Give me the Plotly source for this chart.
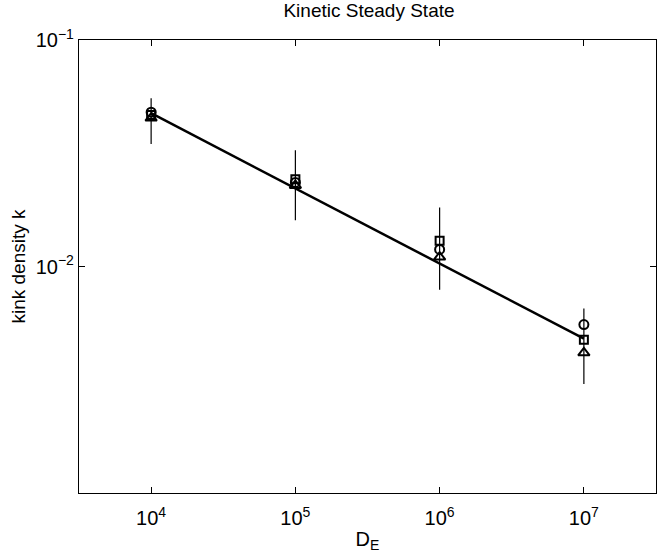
import plotly.graph_objects as go

x_vals = [1e4, 1e5, 1e6, 1e7]
circle_k = [0.0480, 0.0235, 0.0119, 0.00554]
square_k = [0.0466, 0.0243, 0.0130, 0.00475]
triangle_k = [0.0452, 0.0228, 0.0110, 0.00416]
err_center = [0.0466, 0.0235, 0.0119, 0.00475]
err_top = [0.0553, 0.0326, 0.0182, 0.00652]
err_bottom = [0.0347, 0.0160, 0.0079, 0.00303]
fit_x = [1e4, 1e7]
fit_k = [0.0475, 0.0048]

x_tickvals = [1e4, 1e5, 1e6, 1e7]
x_ticktext = ["10<sup>4</sup>", "10<sup>5</sup>", "10<sup>6</sup>", "10<sup>7</sup>"]
y_tickvals = [1e-2, 1e-1]
y_ticktext = ["10<sup>−2</sup>", "10<sup>−1</sup>"]

fig = go.Figure()
fig.add_trace(go.Scatter(
    x=x_vals, y=err_center, mode="markers",
    marker=dict(size=1, color="rgba(0,0,0,0)"),
    error_y=dict(type="data", symmetric=False,
                 array=[t - c for t, c in zip(err_top, err_center)],
                 arrayminus=[c - b for c, b in zip(err_center, err_bottom)],
                 width=0, thickness=1.2, color="black"),
    showlegend=False, hoverinfo="skip"))
fig.add_trace(go.Scatter(x=fit_x, y=fit_k, mode="lines",
                         line=dict(color="black", width=2.5), showlegend=False))
fig.add_trace(go.Scatter(x=x_vals, y=circle_k, mode="markers",
                         marker=dict(symbol="circle-open", size=9, color="black",
                                     line=dict(width=2)), showlegend=False))
fig.add_trace(go.Scatter(x=x_vals, y=square_k, mode="markers",
                         marker=dict(symbol="square-open", size=8, color="black",
                                     line=dict(width=2)), showlegend=False))
fig.add_trace(go.Scatter(x=x_vals, y=triangle_k, mode="markers",
                         marker=dict(symbol="triangle-up-open", size=10, color="black",
                                     line=dict(width=2)), showlegend=False))

font = "Liberation Sans, Arial, Helvetica, sans-serif"
fig.update_layout(
    width=666, height=557,
    margin=dict(l=79, r=10, t=40, b=64),
    paper_bgcolor="white", plot_bgcolor="white",
    font=dict(family=font, color="black", size=20),
    title=dict(text="Kinetic Steady State", x=369/666, xanchor="center",
               y=0.993, yanchor="top", font=dict(size=19)),
    xaxis=dict(type="log", range=[3.5, 7.5], tickvals=x_tickvals, ticktext=x_ticktext,
               ticks="inside", ticklen=6, tickcolor="black", showgrid=False,
               zeroline=False, showline=True, linecolor="black", linewidth=1.2,
               mirror="ticks", tickfont=dict(size=20), ticklabelstandoff=7,
               title=dict(text="D<sub>E</sub>", font=dict(size=20), standoff=3)),
    yaxis=dict(type="log", range=[-3, -1], tickvals=y_tickvals, ticktext=y_ticktext,
               ticks="inside", ticklen=6, tickcolor="black", showgrid=False,
               zeroline=False, showline=True, linecolor="black", linewidth=1.2,
               mirror="ticks", tickfont=dict(size=20),
               title=dict(text="kink density k", font=dict(size=19), standoff=5)),
)
fig.write_html("out.html", config={"displayModeBar": False},
               post_script="document.body.style.margin='0px';")
